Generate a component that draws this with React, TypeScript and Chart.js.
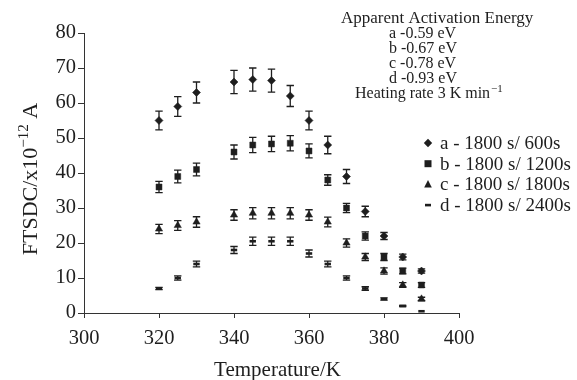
import React, { useEffect, useRef } from 'react';
import { Chart, registerables } from 'chart.js';

Chart.register(...registerables);

// ---- data ----
const temperatures = [320, 325, 330, 340, 345, 350, 355, 360, 365, 370, 375, 380, 385, 390];
const seriesA = [55, 59, 63, 66, 66.7, 66.4, 62, 55, 48, 39, 29, 22, 16, 12];
const seriesB = [36, 39, 41, 46, 48, 48.3, 48.5, 46.3, 38, 30, 22, 16, 12, 8];
const seriesC = [24, 25, 26, 28, 28.5, 28.5, 28.5, 28, 26, 20, 16, 12, 8, 4];
const seriesD = [7, 10, 14, 18, 20.5, 20.5, 20.5, 17, 14, 10, 7, 4, 2, 0.5];
const errorA = [2.7, 2.8, 3, 3.3, 3.3, 3.3, 3, 2.7, 2.5, 2, 1.5, 1, 0.8, 0.6];
const errorB = [1.6, 1.8, 1.8, 2, 2.2, 2.2, 2.2, 2, 1.5, 1.3, 1.2, 1, 0.8, 0.7];
const errorC = [1.3, 1.4, 1.5, 1.5, 1.6, 1.6, 1.6, 1.5, 1.4, 1.2, 1, 0.9, 0.7, 0.5];
const errorD = [0.3, 0.6, 0.8, 1, 1.2, 1.2, 1.2, 1, 0.8, 0.6, 0.5, 0.3, 0.2, 0];
const xTicks = [300, 320, 340, 360, 380, 400];
const yTicks = [0, 10, 20, 30, 40, 50, 60, 70, 80];
const legendLabels = ['a - 1800 s/ 600s', 'b - 1800 s/ 1200s', 'c - 1800 s/ 1800s', 'd - 1800 s/ 2400s'];
const energyTitle = 'Apparent Activation Energy';
const energyLines = ['a -0.59 eV', 'b -0.67 eV', 'c -0.78 eV', 'd -0.93 eV'];
const heatingRate = 'Heating rate 3 K min';
const heatingRateSup = '\u22121';
const xTitle = 'Temperature/K';
const yTitleMain = 'FTSDC/x10';
const yTitleSup = '\u221212';
const yTitleTail = ' A';

const FONT = '"Liberation Serif", "Times New Roman", serif';
const INK = '#1e1e1e';

const seriesValues = [seriesA, seriesB, seriesC, seriesD];
const seriesErrors = [errorA, errorB, errorC, errorD];
const pointStyles = ['rectRot', 'rect', 'triangle', 'line'];
const pointRadii = [4, 4.2, 4.2, 3.2];

function drawMarker(ctx: CanvasRenderingContext2D, style: string, x: number, y: number) {
  ctx.save();
  ctx.fillStyle = INK;
  ctx.strokeStyle = INK;
  ctx.beginPath();
  if (style === 'rectRot') {
    ctx.moveTo(x, y - 4.2);
    ctx.lineTo(x + 4.2, y);
    ctx.lineTo(x, y + 4.2);
    ctx.lineTo(x - 4.2, y);
    ctx.closePath();
    ctx.fill();
  } else if (style === 'rect') {
    ctx.rect(x - 3.5, y - 3.5, 7, 7);
    ctx.fill();
  } else if (style === 'triangle') {
    ctx.moveTo(x, y - 4.5);
    ctx.lineTo(x + 3.8, y + 3);
    ctx.lineTo(x - 3.8, y + 3);
    ctx.closePath();
    ctx.fill();
  } else {
    ctx.rect(x - 3, y - 1.3, 6, 2.6);
    ctx.fill();
  }
  ctx.restore();
}

const errorBarPlugin = {
  id: 'errorBars',
  beforeDatasetsDraw(chart: any) {
    const ctx = chart.ctx as CanvasRenderingContext2D;
    const yScale = chart.scales.y;
    ctx.save();
    ctx.strokeStyle = INK;
    ctx.lineWidth = 1.3;
    chart.data.datasets.forEach((ds: any, di: number) => {
      const meta = chart.getDatasetMeta(di);
      const errs = seriesErrors[di];
      meta.data.forEach((pt: any, j: number) => {
        const e = errs[j];
        if (!e) return;
        const v = ds.data[j].y;
        const x = pt.x;
        const yTop = yScale.getPixelForValue(v + e);
        const yBot = yScale.getPixelForValue(v - e);
        ctx.beginPath();
        ctx.moveTo(x, yTop);
        ctx.lineTo(x, yBot);
        ctx.moveTo(x - 3.7, yTop);
        ctx.lineTo(x + 3.7, yTop);
        ctx.moveTo(x - 3.7, yBot);
        ctx.lineTo(x + 3.7, yBot);
        ctx.stroke();
      });
    });
    ctx.restore();
  },
};

const textPlugin = {
  id: 'textDecor',
  afterDraw(chart: any) {
    const ctx = chart.ctx as CanvasRenderingContext2D;
    const area = chart.chartArea;
    ctx.save();
    ctx.fillStyle = INK;

    // x title
    ctx.font = `21px ${FONT}`;
    ctx.textAlign = 'center';
    ctx.textBaseline = 'alphabetic';
    ctx.fillText(xTitle, (area.left + area.right) / 2 + 6, 376);

    // y title (rotated, with superscript)
    ctx.save();
    ctx.translate(37, 179);
    ctx.rotate(-Math.PI / 2);
    ctx.textAlign = 'left';
    ctx.font = `22px ${FONT}`;
    const w1 = ctx.measureText(yTitleMain).width;
    const w3 = ctx.measureText(yTitleTail).width;
    ctx.font = `15px ${FONT}`;
    const w2 = ctx.measureText(yTitleSup).width;
    const start = -(w1 + w2 + w3) / 2;
    ctx.font = `22px ${FONT}`;
    ctx.fillText(yTitleMain, start, 0);
    ctx.font = `15px ${FONT}`;
    ctx.fillText(yTitleSup, start + w1, -9);
    ctx.font = `22px ${FONT}`;
    ctx.fillText(yTitleTail, start + w1 + w2, 0);
    ctx.restore();

    // activation energy annotation
    ctx.textAlign = 'left';
    ctx.textBaseline = 'middle';
    ctx.font = `17px ${FONT}`;
    ctx.fillText(energyTitle, 341, 19);
    ctx.font = `16px ${FONT}`;
    energyLines.forEach((t, i) => {
      ctx.fillText(t, 389, 33.5 + i * 15);
    });
    const hw = ctx.measureText(heatingRate).width;
    ctx.fillText(heatingRate, 355, 94);
    ctx.font = `11px ${FONT}`;
    ctx.fillText(heatingRateSup, 355 + hw + 1, 89);

    // legend
    ctx.font = `19px ${FONT}`;
    ctx.textBaseline = 'middle';
    legendLabels.forEach((t, i) => {
      const y = 143 + i * 20.7;
      drawMarker(ctx, pointStyles[i], 428, y);
      ctx.fillText(t, 440, y + 1);
    });
    ctx.restore();
  },
};

export default function App() {
  const canvasRef = useRef<HTMLCanvasElement | null>(null);

  useEffect(() => {
    if (!canvasRef.current) return;
    const datasets = seriesValues.map((vals, i) => ({
      label: legendLabels[i],
      data: temperatures.map((t, j) => ({ x: t, y: vals[j] })),
      showLine: false,
      pointStyle: pointStyles[i] as any,
      pointRadius: pointRadii[i],
      pointBackgroundColor: INK,
      pointBorderColor: INK,
      pointBorderWidth: i === 3 ? 2.6 : 0.5,
    }));

    const chart = new Chart(canvasRef.current, {
      type: 'scatter',
      data: { datasets },
      options: {
        responsive: false,
        animation: false,
        events: [],
        layout: { padding: { left: 0, right: 118, top: 33, bottom: 0 } },
        plugins: {
          legend: { display: false },
          tooltip: { enabled: false },
        },
        scales: {
          x: {
            type: 'linear',
            min: 300,
            max: 400,
            afterBuildTicks: (s: any) => {
              s.ticks = xTicks.map((v) => ({ value: v }));
            },
            afterFit: (s: any) => {
              s.height = 67;
            },
            grid: { drawOnChartArea: false, drawTicks: true, tickLength: 5, color: '#333' },
            border: { display: true, color: '#333', width: 1 },
            ticks: {
              color: INK,
              font: { family: FONT, size: 20.5 },
              padding: 8,
              maxRotation: 0,
            },
          },
          y: {
            type: 'linear',
            min: 0,
            max: 80,
            afterBuildTicks: (s: any) => {
              s.ticks = yTicks.map((v) => ({ value: v }));
            },
            afterFit: (s: any) => {
              s.width = 84;
            },
            grid: { drawOnChartArea: false, drawTicks: true, tickLength: 6, color: '#333' },
            border: { display: true, color: '#333', width: 1 },
            ticks: {
              color: INK,
              font: { family: FONT, size: 20.5 },
              padding: 2,
            },
          },
        },
      },
      plugins: [errorBarPlugin, textPlugin],
    });
    return () => chart.destroy();
  }, []);

  return (
    <div style={{ position: 'fixed', left: 0, top: 0, width: 577, height: 380, background: '#fff' }}>
      <canvas ref={canvasRef} width={577} height={380} />
    </div>
  );
}
